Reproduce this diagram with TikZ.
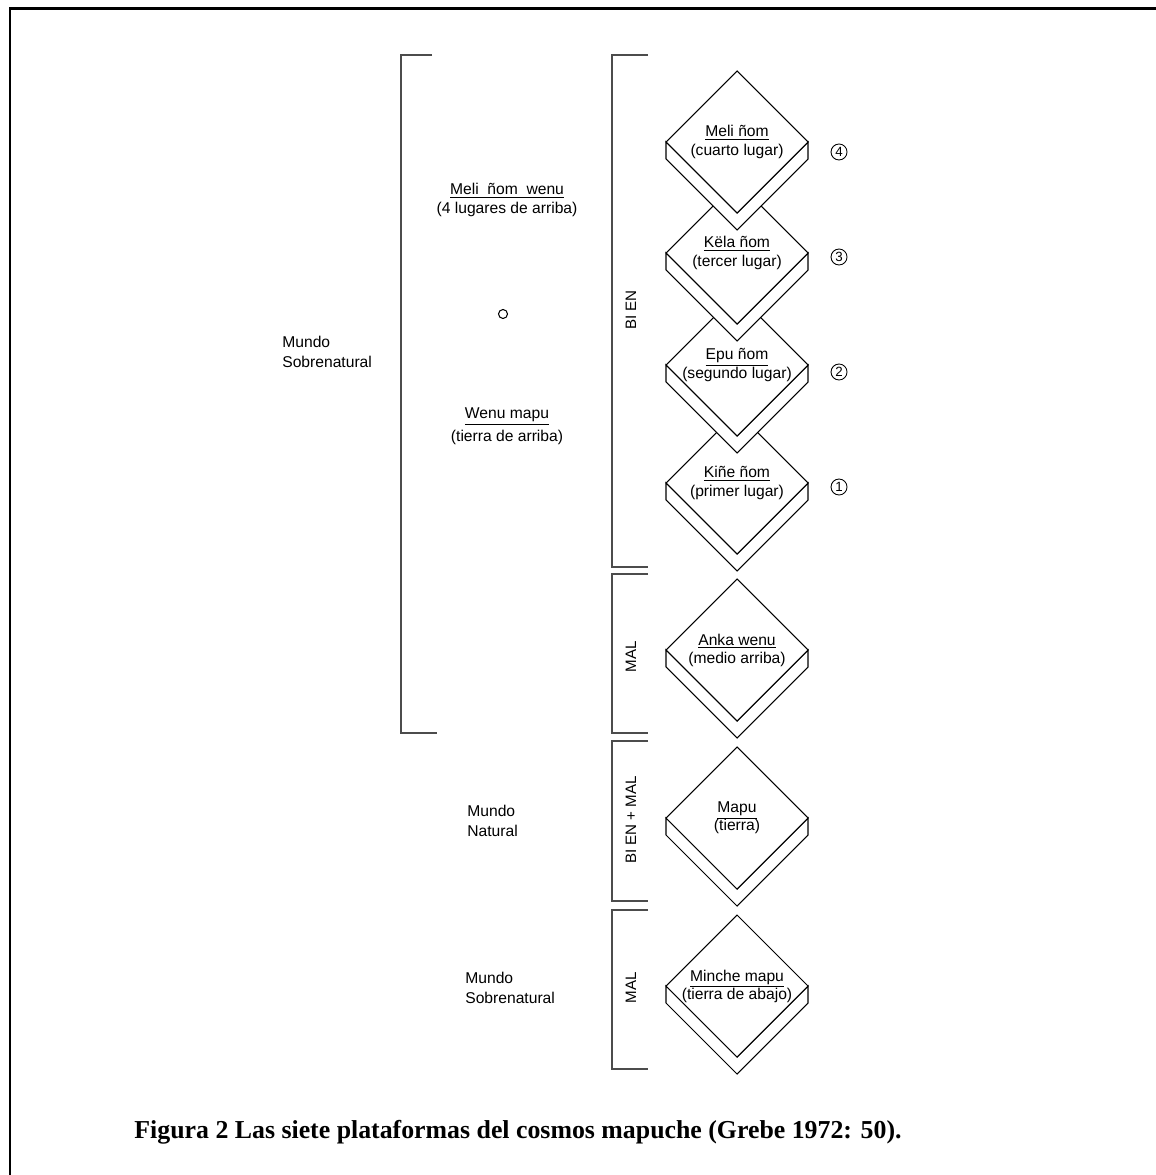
\documentclass[tikz,border=0pt]{standalone}
\usepackage{fontspec}
\setmainfont{Liberation Sans}
\newfontfamily\capfont{Liberation Serif}
\begin{document}
\begin{tikzpicture}[x=0.02cm,y=-0.02cm,
  plat/.style={draw=black,fill=white,line width=0.6pt,line join=miter},
  brk/.style={draw=black!70,line width=1.1pt},
  txt/.style={font=\fontsize{8.9}{10.3}\selectfont,align=center,inner sep=0pt},
  lado/.style={font=\fontsize{8.9}{11.3}\selectfont,align=left,inner sep=0pt,anchor=west},
  rot/.style={font=\fontsize{8.6}{10}\selectfont,rotate=90,inner sep=0pt},
  num/.style={circle,draw,line width=0.5pt,inner sep=0pt,minimum size=0.32cm,font=\fontsize{7.6}{7.6}\selectfont}]
\useasboundingbox (0,0) rectangle (1155,1175);
% marco
\draw[line width=1.7pt] (10,1200) -- (10,8.5) -- (1180,8.5);
% corchetes
\draw[brk] (432,55) -- (401,55) -- (401,733) -- (437,733);
\draw[brk] (648,55) -- (612,55) -- (612,567) -- (648,567);
\draw[brk] (648,574) -- (612,574) -- (612,733) -- (648,733);
\draw[brk] (648,741) -- (612,741) -- (612,901) -- (648,901);
\draw[brk] (648,910) -- (612,910) -- (612,1069) -- (648,1069);
\node[rot] (bien) at (631,310) {BI EN};
\node[rot] (mal1) at (631,657) {MAL};
\node[rot] (bienmal) at (631,820) {BI EN + MAL};
\node[rot] (mal2) at (631,988) {MAL};
% cuatro lugares de arriba
\foreach \yy/\nom/\lug/\n/\ny in {483/Kiñe ñom/primer lugar/1/487, 365/Epu ñom/segundo lugar/2/372, 253/Këla ñom/tercer lugar/3/257, 142/Meli ñom/cuarto lugar/4/152}{
  \filldraw[plat] (666,\yy) -- (666,\yy+17) -- (737,\yy+88) -- (808,\yy+17) -- (808,\yy) -- (737,\yy+71) -- cycle;
  \filldraw[plat] (737,\yy-71) -- (808,\yy) -- (737,\yy+71) -- (666,\yy) -- cycle;
  \node[txt] (p\n) at (737,\yy) {\underline{\nom}\\(\lug)};
  \node[num] (c\n) at (839,\ny) {\n};
}
% plataformas de abajo
\foreach \yy/\nom/\lug/\n in {650/Anka wenu/medio arriba/5, 818/Mapu/tierra/6, 986/Minche mapu/tierra de abajo/7}{
  \filldraw[plat] (666,\yy) -- (666,\yy+17) -- (737,\yy+88) -- (808,\yy+17) -- (808,\yy) -- (737,\yy+71) -- cycle;
  \filldraw[plat] (737,\yy-71) -- (808,\yy) -- (737,\yy+71) -- (666,\yy) -- cycle;
  \node[txt] (p\n) at (737,\yy) {\underline{\nom}\\(\lug)};
}
\node[txt] (meliwenu) at (507,200) {\underline{Meli\ \ ñom\ \ wenu}\\(4 lugares de arriba)};
\draw[line width=0.6pt] (503,314) circle (4.5);
\node[txt,font=\fontsize{8.9}{13}\selectfont] (wenumapu) at (507,426) {\underline{Wenu mapu}\\(tierra de arriba)};
\node[lado] (sobre1) at (282,352) {Mundo\\Sobrenatural};
\node[lado] (natural) at (467,821) {Mundo\\Natural};
\node[lado] (sobre2) at (465,988) {Mundo\\Sobrenatural};
\node[inner sep=0pt,font=\capfont\bfseries\fontsize{14.7}{16}\selectfont] (titulo) at (518,1132) {Figura 2 Las siete plataformas del cosmos mapuche (Grebe 1972: 50).};
\end{tikzpicture}
\end{document}
